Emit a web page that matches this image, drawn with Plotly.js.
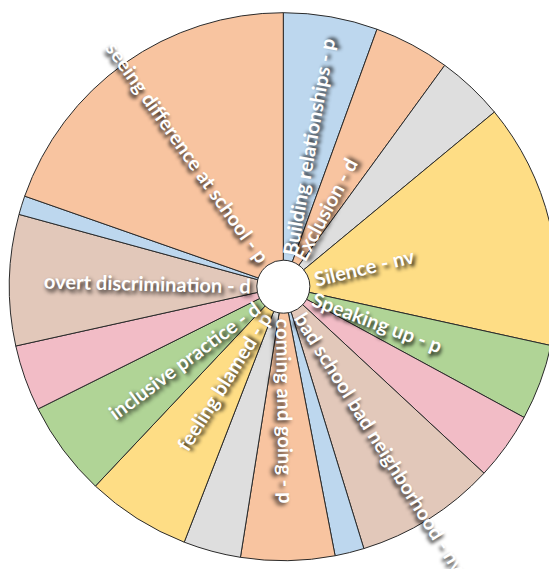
<!DOCTYPE html>
<html><head><meta charset="utf-8">
<script src="https://cdn.plot.ly/plotly-3.0.1.min.js"></script>
<style>html,body{margin:0;padding:0;overflow:hidden;background:#fff}#chart{width:580px;height:569px}</style>
</head><body><div id="chart"></div>
<script>
// Slice sizes (clockwise from 12 o'clock)
const sliceValues = [20.0, 16.1, 14.3, 52.0, 16.1, 14.4, 30.0, 6.2, 19.9, 12.2, 22.1, 20.2, 14.0, 27.8, 4.0, 70.7];
const sliceNames = [
  "Building relationships - p", "Exclusion - d", "", "Silence - nv",
  "Speaking up - p", "", "bad school bad neighborhood - nv", "",
  "coming and going - p", "", "feeling blamed - p", "inclusive practice - d",
  "", "overt discrimination - d", "", "seeing difference at school - p"
];
const palette = ["#BDD7EE", "#F8C4A0", "#DEDEDE", "#FEDD85", "#B0D496", "#F2BCC6", "#E2C8BA"];
const sliceColors = sliceValues.map((v, i) => palette[i % palette.length]);

const W = 580, H = 569;
const cx = 283.3, cy = 286.7, R = 274, holeR = 26.5, r0 = 32;
const fontFamily = "Lato";

const cvs = document.createElement("canvas").getContext("2d");
function measure(t, size) { cvs.font = "bold " + size + "px " + fontFamily; return cvs.measureText(t).width; }
const fontSize = 100 * 207 / measure("overt discrimination - d", 100);

const total = sliceValues.reduce((a, b) => a + b, 0);
let cum = 0;
const annotations = [];
sliceValues.forEach((v, i) => {
  const mid = (cum + v / 2) / total * 360;
  cum += v;
  const name = sliceNames[i];
  if (!name) return;
  const rot = mid < 180 ? mid - 90 : mid - 270;
  const w = measure(name, fontSize);
  const d = r0 + w / 2;
  const th = mid * Math.PI / 180;
  const px = cx + d * Math.sin(th), py = cy - d * Math.cos(th);
  annotations.push({
    text: name, x: px / W, y: 1 - py / H, xref: "paper", yref: "paper",
    showarrow: false, textangle: rot, xanchor: "center", yanchor: "middle",
    font: { family: fontFamily, size: fontSize, color: "#ffffff", weight: "bold",
            shadow: "2px 3px 4px rgba(0,0,0,0.9)" }
  });
});

const trace = {
  type: "pie", values: sliceValues, sort: false, direction: "clockwise", rotation: 0,
  hole: holeR / R, textinfo: "none", hoverinfo: "skip", showlegend: false,
  marker: { colors: sliceColors, line: { color: "#2a2a2a", width: 1 } },
  domain: { x: [(cx - R) / W, (cx + R) / W], y: [(H - cy - R) / H, (H - cy + R) / H] }
};

Plotly.newPlot("chart", [trace], {
  width: W, height: H, margin: { l: 0, r: 0, t: 0, b: 0 },
  paper_bgcolor: "#ffffff", showlegend: false, annotations: annotations
}, { displayModeBar: false, staticPlot: true });
</script>
</body></html>
